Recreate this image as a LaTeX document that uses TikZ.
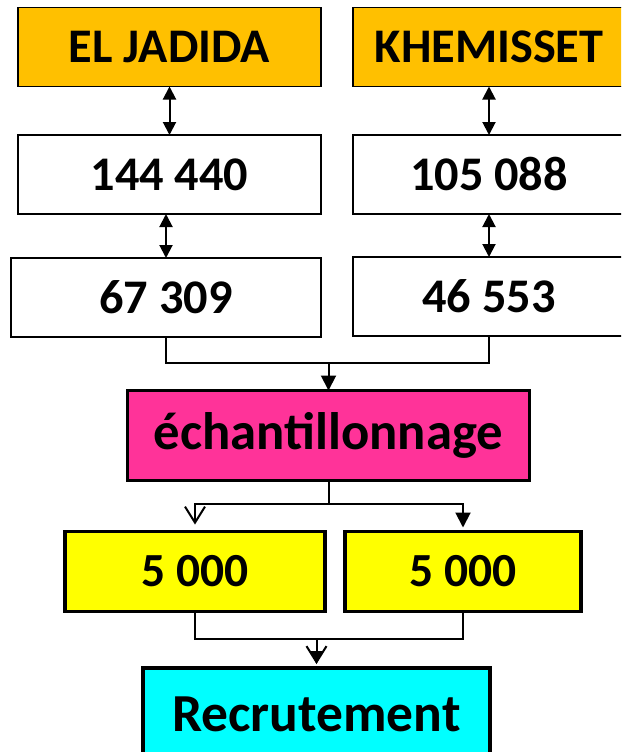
\documentclass[tikz,border=0pt]{standalone}
\usepackage{fontspec}
\setmainfont{Carlito}
\usetikzlibrary{arrows.meta}

\definecolor{cityorange}{HTML}{FFC000}
\definecolor{samplepink}{HTML}{FF3399}
\definecolor{quotayellow}{HTML}{FFFF00}
\definecolor{recruitcyan}{HTML}{00FFFF}

\tikzset{
  box/.style={draw=black, rectangle, inner sep=0pt, outer sep=0pt,
    font=\fontsize{48.3}{52}\selectfont\bfseries, text=black},
  thinbox/.style={box, line width=1.6pt, minimum height=79pt},
  thickbox/.style={box, line width=3.6pt},
  link/.style={line width=2pt, draw=black},
  twoway/.style={link, {Triangle[length=13pt,width=13pt]}-{Triangle[length=13pt,width=13pt]}},
  fillhead/.style={link, -{Triangle[length=15pt,width=15pt]}},
  openhead/.style={link, -{Straight Barb[length=16pt,width=20pt,line width=2pt]}},
}

\begin{document}
\begin{tikzpicture}[x=1pt, y=-1pt]
  \useasboundingbox (0,0) rectangle (621,752);
  \clip (0,0) rectangle (621,752);

  % the two towns
  \node[thinbox, fill=cityorange, minimum width=303pt] (elj) at (169.5,47) {EL JADIDA};
  \node[thinbox, fill=cityorange, minimum width=272pt] (khe) at (489,47) {KHEMISSET};

  % population figures
  \node[thinbox, fill=white, minimum width=303pt] (pop1) at (169.5,174.5) {144 440};
  \node[thinbox, fill=white, minimum width=272pt] (pop2) at (489,174.5) {105 088};
  \node[thinbox, fill=white, minimum width=310pt] (sub1) at (166,297.5) {67 309};
  \node[thinbox, fill=white, minimum width=272pt] (sub2) at (489,296.5) {46 553};

  % sampling
  \node[thickbox, fill=samplepink, minimum width=402pt, minimum height=90pt,
        font=\fontsize{52.7}{56}\selectfont\bfseries] (ech) at (328.5,435.5) {échantillonnage};

  % sample sizes
  \node[thickbox, fill=quotayellow, minimum width=260pt, minimum height=80pt,
        font=\fontsize{47.5}{51}\selectfont\bfseries] (q1) at (195,571.5) {5 000};
  \node[thickbox, fill=quotayellow, minimum width=236pt, minimum height=80pt,
        font=\fontsize{47.5}{51}\selectfont\bfseries] (q2) at (463,571.5) {5 000};

  % recruitment
  \node[thickbox, fill=recruitcyan, minimum width=347pt, minimum height=92pt,
        font=\fontsize{53.5}{57}\selectfont\bfseries] (rec) at (316.5,714) {Recrutement};

  % vertical links between town, population and subset
  \draw[twoway] (elj.south) -- (pop1.north);
  \draw[twoway] (khe.south) -- (pop2.north);
  \draw[twoway] (pop1.south -| sub1.north) -- (sub1.north);
  \draw[twoway] (pop2.south) -- (sub2.north);

  % merge into sampling
  \coordinate (m1) at (328.5,363);
  \draw[link] (sub1.south) |- (m1);
  \draw[link] (sub2.south) |- (m1);
  \draw[fillhead] (m1) -- (ech.north);

  % split into the two samples
  \coordinate (s1) at (328.5,504);
  \draw[link] (ech.south) -- (s1);
  \draw[openhead, shorten >=7pt] (s1) -| (q1.north);
  \draw[fillhead, shorten >=4pt] (s1) -| (q2.north);

  % merge into recruitment
  \coordinate (m2) at (316.5,639);
  \draw[link] (q1.south) |- (m2);
  \draw[link] (q2.south) |- (m2);
  \draw[openhead, shorten >=4pt] (m2) -- (rec.north);
  \draw[link, -{Triangle[length=13pt,width=12pt]}, shorten >=4pt] (m2) -- (rec.north);
\end{tikzpicture}
\end{document}
